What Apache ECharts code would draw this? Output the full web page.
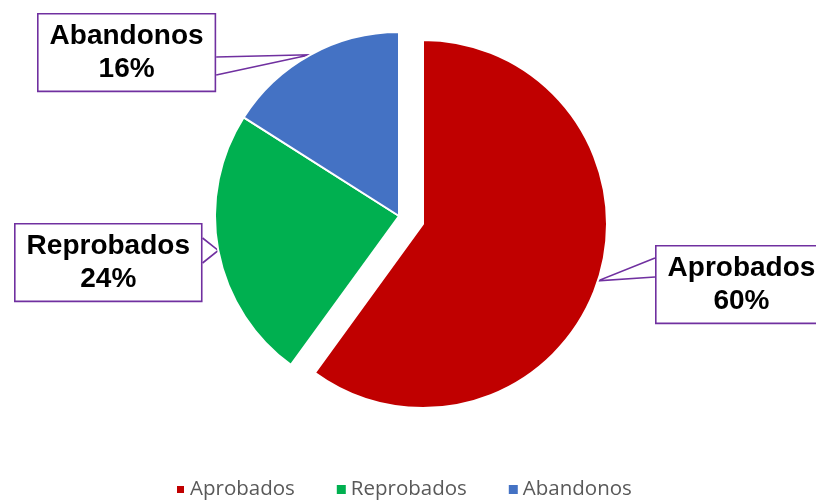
<!DOCTYPE html>
<html>
<head>
<meta charset="utf-8">
<script src="https://cdn.jsdelivr.net/npm/echarts@6/dist/echarts.min.js"></script>
<style>
  html, body { margin: 0; padding: 0; background: #fff; }
  #chart { width: 816px; height: 500px; }
</style>
</head>
<body>
<div id="chart"></div>
<script>
// datos del grafico
var categories = ['Aprobados', 'Reprobados', 'Abandonos'];
var values = [60, 24, 16];
var colors = ['#C00000', '#00B050', '#4472C4'];
var exploded = [true, false, false];

// posicion de los recuadros (esquina sup. izq.) y de la boca del globo
var boxCorners = [[655, 245], [14, 223], [37, 13]];
var wedgeSide = ['left', 'right', 'right'];
var wedgeSpan = [[258, 277], [238, 263], [57, 75]];

var chart = echarts.init(document.getElementById('chart'));

var hidden = {
  itemStyle: { color: 'transparent', borderColor: 'transparent', borderWidth: 0 },
  label: { show: false },
  labelLine: { show: false }
};

// una serie para la porcion separada y otra para el resto
function buildData(wantExploded) {
  return categories.map(function (name, i) {
    var item = { name: name, value: values[i] };
    if (exploded[i] === wantExploded) {
      item.itemStyle = { color: colors[i] };
    } else {
      item.itemStyle = hidden.itemStyle;
      item.label = hidden.label;
      item.labelLine = hidden.labelLine;
    }
    return item;
  });
}

var labelStyle = {
  show: true,
  position: 'outside',
  formatter: '{b}\n{d}%',
  color: '#000',
  fontFamily: 'Liberation Sans',
  fontWeight: 'bold',
  fontSize: 28,
  lineHeight: 33,
  align: 'center',
  backgroundColor: '#fff',
  borderColor: '#7030A0',
  borderWidth: 1.6,
  padding: [5, 11]
};

function layoutLabel(p) {
  var i = p.dataIndex;
  var r = p.labelRect;
  var c = boxCorners[i];
  var edgeX = wedgeSide[i] === 'left' ? c[0] : c[0] + r.width;
  var out = {
    x: c[0] + r.width / 2,
    y: c[1] + r.height / 2,
    align: 'center',
    verticalAlign: 'middle'
  };
  if (p.labelLinePoints) {
    out.labelLinePoints = [
      [edgeX, wedgeSpan[i][0]],
      p.labelLinePoints[0],
      [edgeX, wedgeSpan[i][1]]
    ];
  }
  return out;
}

function pieSeries(center, wantExploded) {
  return {
    type: 'pie',
    center: center,
    radius: 184,
    startAngle: 90,
    clockwise: true,
    avoidLabelOverlap: false,
    silent: true,
    itemStyle: { borderColor: '#fff', borderWidth: 2 },
    label: labelStyle,
    labelLine: {
      show: true,
      length: 10,
      length2: 10,
      lineStyle: { color: '#7030A0', width: 1.6 }
    },
    labelLayout: layoutLabel,
    data: buildData(wantExploded)
  };
}

chart.setOption({
  animation: false,
  backgroundColor: '#fff',
  legend: {
    top: 474,
    left: 170,
    icon: 'rect',
    itemWidth: 9,
    itemHeight: 9,
    itemGap: 42,
    textStyle: {
      color: '#595959',
      fontSize: 20.5,
      fontFamily: 'Open Sans'
    },
    data: categories.map(function (name, i) {
      return { name: name, itemStyle: { color: colors[i] } };
    })
  },
  series: [
    pieSeries([423, 224], true),
    pieSeries([399, 216], false)
  ]
});
</script>
</body>
</html>
